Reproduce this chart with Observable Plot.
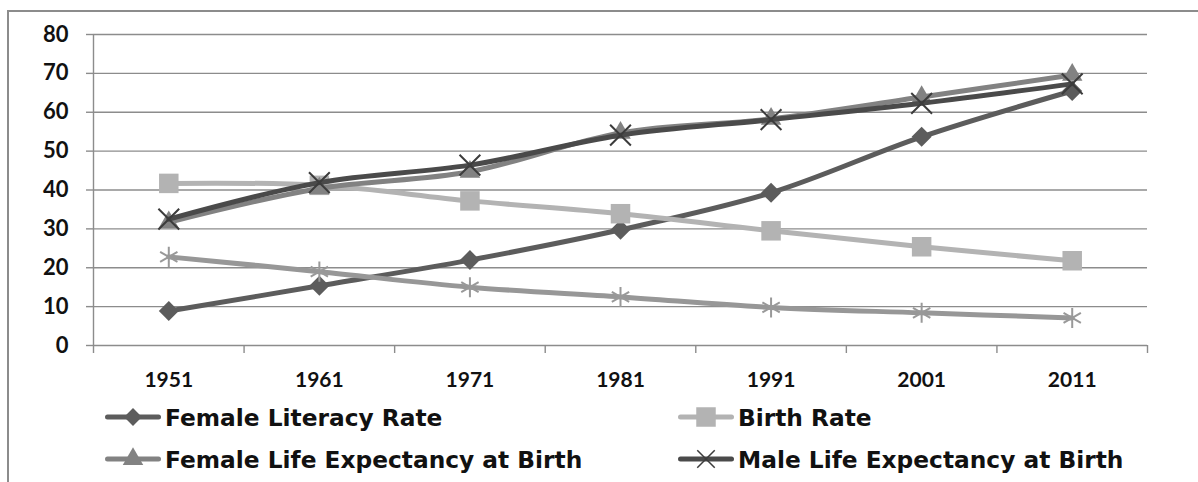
<!DOCTYPE html>
<html>
<head>
<meta charset="utf-8">
<script src="https://cdn.jsdelivr.net/npm/d3@7"></script>
<script src="https://cdn.jsdelivr.net/npm/@observablehq/plot@0.6"></script>
<style>
  html, body { margin: 0; padding: 0; background: #fff; width: 1198px; height: 482px; overflow: hidden; }
  #frame { position: absolute; left: 7px; top: 10px; width: 1400px; height: 700px; border: 2px solid #8c8c8c; box-sizing: border-box; }
  #chart { position: absolute; left: 0; top: 0; }
  .legend-item { position: absolute; display: flex; align-items: center; font-family: "DejaVu Sans", sans-serif; font-weight: bold; font-size: 23.3px; color: #111; white-space: nowrap; }
  .legend-item svg { display: block; margin-right: 4px; }
</style>
</head>
<body>
<div id="frame"></div>
<div id="chart"></div>
<div id="legend"></div>
<script>
const years = [1951, 1961, 1971, 1981, 1991, 2001, 2011];
const femaleLiteracy = [8.86, 15.35, 21.97, 29.76, 39.29, 53.67, 65.46];
const birthRate = [41.7, 41.2, 37.2, 33.9, 29.5, 25.4, 21.8];
const femaleLifeExp = [31.7, 40.4, 44.7, 54.7, 58.3, 63.9, 69.6];
const maleLifeExp = [32.5, 41.9, 46.4, 54.1, 58.1, 62.3, 67.3];
const deathRate = [22.8, 19.0, 15.0, 12.5, 9.8, 8.4, 7.1];
const yTicks = [0, 10, 20, 30, 40, 50, 60, 70, 80];
const bandEdges = [1946, 1956, 1966, 1976, 1986, 1996, 2006, 2016];

const seriesNames = ["Female Literacy Rate", "Birth Rate", "Female Life Expectancy at Birth", "Male Life Expectancy at Birth", "Death Rate"];
const seriesValues = [femaleLiteracy, birthRate, femaleLifeExp, maleLifeExp, deathRate];
const seriesColors = ["#5c5c5c", "#b3b3b3", "#828282", "#4a4a4a", "#979797"];
const markerColors = ["#5c5c5c", "#b3b3b3", "#828282", "#3c3c3c", "#999999"];
const seriesSymbols = ["diamond2", "square", "triangle", "times", "asterisk"];
const symbolFilled = [true, true, true, false, false];
const symbolR = [9, 11, 7.6, 9.5, 9.5];
const legendR = [8, 11, 7.6, 8, 8];
const inLegend = [true, true, true, true, false];

const rows = [];
seriesNames.forEach((s, i) => years.forEach((yr, j) => rows.push({series: s, year: yr, value: seriesValues[i][j]})));

const marks = [
  Plot.gridY(yTicks, {stroke: "#8c8c8c", strokeOpacity: 1, strokeWidth: 1.4}),
  Plot.ruleX([bandEdges[0]], {stroke: "#8c8c8c", strokeWidth: 1.4}),
  Plot.axisY(yTicks, {tickSize: 7, tickPadding: 18, stroke: "#8c8c8c", strokeWidth: 1.4, fontSize: 22, fontWeight: "bold", fill: "#111", label: null}),
  Plot.axisX(bandEdges, {tickSize: 8, tickFormat: () => "", stroke: "#8c8c8c", strokeWidth: 1.4, label: null}),
  Plot.axisX(years, {tickSize: 0, tickPadding: 27, tickFormat: d => String(d), fontSize: 21, fontWeight: "bold", fill: "#111", label: null})
];
seriesNames.forEach((s, i) => {
  const d = rows.filter(r => r.series === s);
  marks.push(Plot.lineY(d, {x: "year", y: "value", stroke: seriesColors[i], strokeWidth: 5, curve: "catmull-rom"}));
  marks.push(Plot.dot(d, symbolFilled[i]
    ? {x: "year", y: "value", symbol: () => seriesSymbols[i], r: symbolR[i], fill: markerColors[i], stroke: "none"}
    : {x: "year", y: "value", symbol: () => seriesSymbols[i], r: symbolR[i], fill: "none", stroke: markerColors[i], strokeWidth: 2}));
});

const chart = Plot.plot({
  width: 1198, height: 395,
  marginLeft: 93, marginRight: 51, marginTop: 34, marginBottom: 50,
  x: {type: "linear", domain: [bandEdges[0], bandEdges[bandEdges.length - 1]]},
  y: {domain: [0, 80]},
  symbol: {type: "identity"},
  style: {fontFamily: "Lato, sans-serif", background: "transparent", overflow: "visible"},
  marks
});
document.getElementById("chart").appendChild(chart);

// Legend
const legendPos = [[105, 417], [678, 417], [105, 459], [678, 459]];
const legend = document.getElementById("legend");
const symMap = {diamond2: d3.symbolDiamond2, square: d3.symbolSquare, triangle: d3.symbolTriangle, times: d3.symbolTimes, asterisk: d3.symbolAsterisk};
seriesNames.forEach((s, i) => {
  if (!inLegend[i]) return;
  const [lx, ly] = legendPos[i];
  const item = document.createElement("div");
  item.className = "legend-item";
  item.style.left = lx + "px";
  item.style.top = (ly - 15) + "px";
  item.style.height = "30px";
  const svg = d3.create("svg").attr("width", 56).attr("height", 30);
  svg.append("line").attr("x1", 2.5).attr("x2", 53.5).attr("y1", 15).attr("y2", 15)
    .attr("stroke", seriesColors[i]).attr("stroke-width", 5).attr("stroke-linecap", "round");
  const rr = legendR[i];
  svg.append("path").attr("transform", "translate(28,15)")
    .attr("d", d3.symbol(symMap[seriesSymbols[i]], Math.PI * rr * rr)())
    .attr("fill", symbolFilled[i] ? markerColors[i] : "none")
    .attr("stroke", symbolFilled[i] ? "none" : markerColors[i])
    .attr("stroke-width", 1.5);
  item.appendChild(svg.node());
  const span = document.createElement("span");
  span.textContent = s;
  item.appendChild(span);
  legend.appendChild(item);
});
</script>
</body>
</html>
